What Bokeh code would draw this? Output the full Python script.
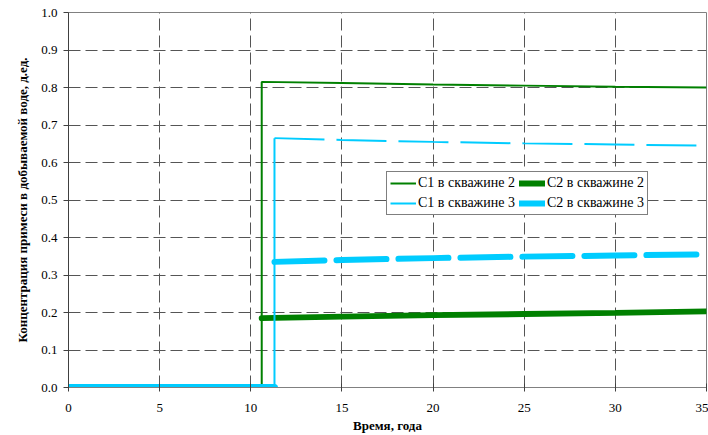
import numpy as np
from bokeh.plotting import figure
from bokeh.models import Legend, LegendItem, FixedTicker, Range1d, CustomJSTickFormatter
from bokeh.embed import file_html
from bokeh.resources import INLINE

# --- data ---
nan = float("nan")
t_w2 = [0, 10.6, 10.6, 15, 20, 25, 30, 35]
c1_w2 = [0, 0, 0.815, 0.812, 0.808, 0.805, 0.802, 0.800]
t_w2_c2 = [0, 10.6, 10.6, 15, 20, 25, 30, 35]
c2_w2 = [0, 0, 0.185, 0.189, 0.193, 0.196, 0.199, 0.203]
t_w3 = [0, 11.3, 11.3, 15, 20, 25, 30, 35]
c1_w3 = [0, 0, 0.665, 0.660, 0.655, 0.651, 0.648, 0.645]
t_w3_c2 = [0, 11.3, 11.3, 15, 20, 25, 30, 35]
c2_w3 = [0, 0, 0.335, 0.340, 0.345, 0.349, 0.352, 0.355]

x_ticks = [0, 5, 10, 15, 20, 25, 30, 35]
y_ticks = [0.0, 0.1, 0.2, 0.3, 0.4, 0.5, 0.6, 0.7, 0.8, 0.9, 1.0]
series_names = ["C1 в скважине 2", "C2 в скважине 2", "C1 в скважине 3", "C2 в скважине 3"]
x_title = "Время, года"
y_title = "Концентрация примеси в добываемой воде, д.ед."

GREEN = "#008000"
CYAN = "#00CCFF"
FONT = "Liberation Serif"

p = figure(width=708, height=435, output_backend="svg", toolbar_location=None,
           x_range=Range1d(0, 35), y_range=Range1d(0, 1.0),
           min_border_left=68, min_border_right=2, min_border_top=12, min_border_bottom=44)
p.background_fill_color = "white"
p.border_fill_color = "white"
p.outline_line_color = "#808080"
p.outline_line_width = 1

# grid
for g in (p.xgrid, p.ygrid):
    g.grid_line_color = "#555555"
    g.grid_line_dash = "12 5"
    g.grid_line_width = 1
p.xgrid.ticker = FixedTicker(ticks=x_ticks[1:-1])
p.ygrid.ticker = FixedTicker(ticks=y_ticks[1:-1])

# axes
p.xaxis.ticker = FixedTicker(ticks=x_ticks)
p.yaxis.ticker = FixedTicker(ticks=y_ticks)
p.yaxis.formatter = CustomJSTickFormatter(code="return tick.toFixed(1);")
for ax in (p.xaxis[0], p.yaxis[0]):
    ax.major_label_text_font = FONT
    ax.major_label_text_font_size = "13px"
    ax.major_label_text_color = "black"
    ax.axis_label_text_font = FONT
    ax.axis_label_text_font_size = "13px"
    ax.axis_label_text_font_style = "bold"
    ax.axis_label_text_color = "black"
    ax.minor_tick_line_color = None
p.xaxis.axis_label = x_title
p.yaxis.axis_label = y_title
p.xaxis.axis_line_color = "#808080"
p.xaxis.major_tick_line_color = "#404040"
p.xaxis.major_tick_in = 4
p.xaxis.major_tick_out = 4
p.xaxis.major_label_standoff = 12
p.xaxis.axis_label_standoff = 3
p.yaxis.axis_line_color = "#404040"
p.yaxis.major_tick_line_color = "#404040"
p.yaxis.major_tick_in = 0
p.yaxis.major_tick_out = 5
p.yaxis.major_label_standoff = 6
p.yaxis.axis_label_standoff = 8

# series (jump segments drawn solid, later parts in the series' dash style)
r1 = p.line(t_w2, c1_w2, line_color=GREEN, line_width=2)
r2 = p.line(t_w2_c2[2:], c2_w2[2:], line_color=GREEN, line_width=6, line_cap="round")
p.line(t_w2_c2[:2], c2_w2[:2], line_color=GREEN, line_width=6, line_cap="round")
p.line(t_w3[:3], c1_w3[:3], line_color=CYAN, line_width=2)
r3 = p.line(t_w3[2:], c1_w3[2:], line_color=CYAN, line_width=2, line_dash="50 12")
r4 = p.line(t_w3_c2[2:], c2_w3[2:], line_color=CYAN, line_width=6, line_dash="50 12", line_cap="round")
p.line(t_w3_c2[:2], c2_w3[:2], line_color=CYAN, line_width=7, line_cap="round")

legend = Legend(items=[LegendItem(label=series_names[0], renderers=[r1]),
                       LegendItem(label=series_names[2], renderers=[r3]),
                       LegendItem(label=series_names[1], renderers=[r2]),
                       LegendItem(label=series_names[3], renderers=[r4])],
                ncols=2, location=(318, 172))
legend.label_text_font = FONT
legend.label_text_font_size = "14px"
legend.label_text_color = "black"
legend.label_standoff = 2
legend.glyph_width = 26
legend.glyph_height = 14
legend.label_height = 14
legend.spacing = 4
legend.padding = 3
legend.margin = 0
legend.border_line_color = "black"
legend.border_line_width = 1
legend.background_fill_alpha = 1.0
p.add_layout(legend, "center")

open("out.html", "w").write(file_html(p, INLINE))
